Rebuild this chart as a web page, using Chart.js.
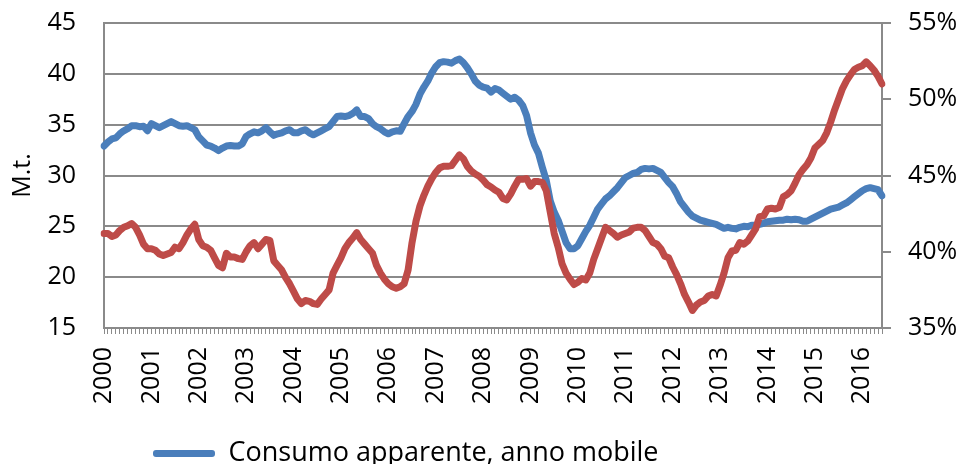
<!DOCTYPE html>
<html>
<head>
<meta charset="utf-8">
<script src="https://cdn.jsdelivr.net/npm/chart.js@4.4.1/dist/chart.umd.min.js"></script>
<style>
  html, body { margin: 0; padding: 0; background: #fff; }
  #wrap { width: 962px; height: 464px; }
</style>
</head>
<body>
<div id="wrap"><canvas id="chart" width="962" height="464"></canvas></div>
<script>
// Year labels on the x axis (one category per month, Jan 2000 .. Jun 2016)
const years = ['2000', '2001', '2002', '2003', '2004', '2005', '2006', '2007', '2008',
    '2009', '2010', '2011', '2012', '2013', '2014', '2015', '2016'];

// Consumo apparente, anno mobile (M.t., left axis)
const consumo = [
    32.9, 33.3, 33.6, 33.7, 34.1, 34.4, 34.6, 34.9, 34.9, 34.8, 34.85, 34.4,
    35.1, 34.9, 34.7, 34.9, 35.1, 35.3, 35.1, 34.9, 34.85, 34.9, 34.7, 34.5,
    33.8, 33.4, 33.0, 32.9, 32.7, 32.45, 32.7, 32.9, 32.95, 32.9, 32.9, 33.1,
    33.85, 34.1, 34.3, 34.2, 34.4, 34.7, 34.3, 33.95, 34.1, 34.2, 34.4, 34.5,
    34.2, 34.2, 34.4, 34.5, 34.2, 34.0, 34.2, 34.4, 34.6, 34.8, 35.3, 35.8,
    35.85, 35.8, 35.9, 36.1, 36.45, 35.8, 35.8, 35.6, 35.1, 34.8, 34.6, 34.3,
    34.1, 34.3, 34.4, 34.35, 35.1, 35.8, 36.3, 37.0, 38.0, 38.7, 39.3, 40.1,
    40.7, 41.1, 41.2, 41.15, 41.05, 41.3, 41.45, 41.1, 40.6, 40.0, 39.3, 38.9,
    38.7, 38.6, 38.2, 38.55, 38.4, 38.1, 37.8, 37.5, 37.7, 37.4, 36.9, 35.9,
    34.2, 33.0, 32.2, 30.8, 29.5, 27.5, 26.4, 25.6, 24.5, 23.4, 22.8, 22.8,
    23.1, 23.8, 24.5, 25.1, 25.9, 26.7, 27.2, 27.7, 28.0, 28.4, 28.8, 29.3,
    29.8, 30.0, 30.2, 30.3, 30.6, 30.7, 30.65, 30.7, 30.5, 30.3, 29.8, 29.3,
    28.9, 28.2, 27.4, 26.9, 26.4, 26.0, 25.8, 25.6, 25.5, 25.4, 25.3, 25.2,
    25.0, 24.8, 24.9, 24.8, 24.75, 24.9, 25.0, 24.95, 25.1, 25.1, 25.2, 25.3,
    25.45, 25.5, 25.55, 25.6, 25.6, 25.7, 25.65, 25.7, 25.65, 25.5, 25.5, 25.7,
    25.9, 26.1, 26.3, 26.5, 26.7, 26.8, 26.9, 27.1, 27.3, 27.6, 27.9, 28.2,
    28.5, 28.7, 28.8, 28.7, 28.6, 28.0
];

// Second series (%, right axis)
const quota = [
    41.2, 41.2, 41.0, 41.1, 41.4, 41.6, 41.7, 41.85, 41.6, 41.1, 40.5, 40.2,
    40.2, 40.1, 39.85, 39.75, 39.85, 39.95, 40.3, 40.2, 40.6, 41.1, 41.5, 41.8,
    40.8, 40.4, 40.3, 40.1, 39.6, 39.1, 38.95, 39.9, 39.65, 39.65, 39.55, 39.5,
    40.0, 40.4, 40.6, 40.2, 40.5, 40.8, 40.75, 39.4, 39.1, 38.8, 38.3, 37.9,
    37.4, 36.9, 36.6, 36.8, 36.75, 36.6, 36.55, 36.9, 37.2, 37.5, 38.6, 39.1,
    39.6, 40.2, 40.6, 40.9, 41.25, 40.8, 40.5, 40.2, 39.9, 39.1, 38.6, 38.2,
    37.9, 37.7, 37.6, 37.7, 37.9, 38.8, 40.6, 42.0, 43.0, 43.7, 44.3, 44.8,
    45.2, 45.5, 45.6, 45.6, 45.65, 46.0, 46.35, 46.1, 45.6, 45.3, 45.1, 44.95,
    44.7, 44.4, 44.25, 44.05, 43.9, 43.5, 43.4, 43.8, 44.3, 44.75, 44.75, 44.8,
    44.3, 44.6, 44.6, 44.55, 44.0, 42.6, 41.2, 40.3, 39.2, 38.6, 38.2, 37.85,
    38.0, 38.25, 38.15, 38.6, 39.5, 40.2, 40.9, 41.6, 41.4, 41.2, 40.95, 41.1,
    41.2, 41.3, 41.55, 41.6, 41.6, 41.4, 41.0, 40.6, 40.5, 40.2, 39.7, 39.6,
    39.0, 38.5, 37.9, 37.2, 36.7, 36.15, 36.5, 36.7, 36.8, 37.1, 37.2, 37.1,
    37.8, 38.6, 39.6, 40.05, 40.1, 40.6, 40.5, 40.7, 41.1, 41.5, 42.3, 42.35,
    42.8, 42.85, 42.8, 42.9, 43.6, 43.75, 44.0, 44.5, 45.05, 45.4, 45.7, 46.15,
    46.8, 47.05, 47.3, 47.8, 48.5, 49.3, 50.0, 50.7, 51.2, 51.6, 51.95, 52.1,
    52.2, 52.45, 52.2, 51.9, 51.5, 51.0
];

const leftTicks = [15, 20, 25, 30, 35, 40, 45];
const rightTicks = [35, 40, 45, 50, 55];

const labels = [];
years.forEach(y => {
    for (let m = 1; m <= 12; m++) labels.push(y + '-' + String(m).padStart(2, '0'));
});
labels.length = consumo.length;

const gridGray = '#8a8a8a';
const font = { family: "'Open Sans', sans-serif", size: 25 };

// move the legend to where the original draws it (below the year labels, left of centre)
const legendSpot = {
    id: 'legendSpot',
    afterLayout(chart) {
        const lg = chart.legend;
        const w = lg.width, h = lg.height;
        lg.left = 143; lg.right = 143 + w;
        lg.top = 430; lg.bottom = 430 + h;
    }
};

// no extra room above/below the value axes: plot box is fixed by layout padding
const noPad = (s, w) => { s.width = w; s.paddingTop = 0; s.paddingBottom = 0; };

new Chart(document.getElementById('chart'), {
    type: 'line',
    data: {
        labels: labels,
        datasets: [{
            label: 'Consumo apparente, anno mobile',
            data: consumo,
            yAxisID: 'y',
            borderColor: '#4a7ebb',
            backgroundColor: '#4a7ebb',
            borderWidth: 7,
            pointRadius: 0,
            borderCapStyle: 'round',
            borderJoinStyle: 'round',
            order: 1
        }, {
            label: 'Quota (%)',
            data: quota,
            yAxisID: 'y1',
            borderColor: '#be4b48',
            backgroundColor: '#be4b48',
            borderWidth: 7,
            pointRadius: 0,
            borderCapStyle: 'round',
            borderJoinStyle: 'round',
            order: 0
        }]
    },
    options: {
        responsive: false,
        devicePixelRatio: 1,
        animation: false,
        layout: { padding: { top: 23, left: 0, right: 0, bottom: 0 } },
        plugins: {
            tooltip: { enabled: false },
            legend: {
                position: 'chartArea',
                align: 'start',
                labels: {
                    font: { family: "'Open Sans', sans-serif", size: 27 },
                    color: '#000',
                    boxWidth: 62,
                    boxHeight: 7,
                    padding: 10,
                    generateLabels: (chart) => [{
                        text: chart.data.datasets[0].label,
                        fillStyle: chart.data.datasets[0].borderColor,
                        strokeStyle: chart.data.datasets[0].borderColor,
                        lineWidth: 0,
                        borderRadius: 3,
                        datasetIndex: 0
                    }],
                    useBorderRadius: true
                }
            }
        },
        scales: {
            x: {
                type: 'category',
                offset: false,
                afterFit: (s) => { s.height = 136; },
                border: { display: true, color: gridGray, width: 2 },
                grid: { drawOnChartArea: false, drawTicks: true, tickLength: 6, color: gridGray, lineWidth: 1 },
                ticks: {
                    autoSkip: false,
                    maxRotation: 90,
                    minRotation: 90,
                    padding: 13,
                    color: '#000',
                    font: font,
                    callback: function (val) {
                        const l = this.getLabelForValue(val);
                        return l.endsWith('-01') ? l.slice(0, 4) : '';
                    }
                }
            },
            y: {
                position: 'left',
                min: 15,
                max: 45,
                afterFit: (s) => noPad(s, 104),
                afterBuildTicks: (s) => { s.ticks = leftTicks.map(v => ({ value: v })); },
                border: { display: true, color: gridGray, width: 2 },
                grid: { color: gridGray, lineWidth: 2, drawTicks: false },
                title: { display: true, text: 'M.t.', color: '#000', font: font, padding: { top: 8, bottom: 0 } },
                ticks: { padding: 28, color: '#000', font: font }
            },
            y1: {
                position: 'right',
                min: 35,
                max: 55,
                afterFit: (s) => noPad(s, 80),
                afterBuildTicks: (s) => { s.ticks = rightTicks.map(v => ({ value: v })); },
                border: { display: true, color: gridGray, width: 2 },
                grid: { drawOnChartArea: false, drawTicks: true, tickLength: 9, color: gridGray, lineWidth: 2 },
                ticks: { padding: 17, color: '#000', font: font, callback: (v) => v + '%' }
            }
        }
    },
    plugins: [legendSpot]
});
</script>
</body>
</html>
